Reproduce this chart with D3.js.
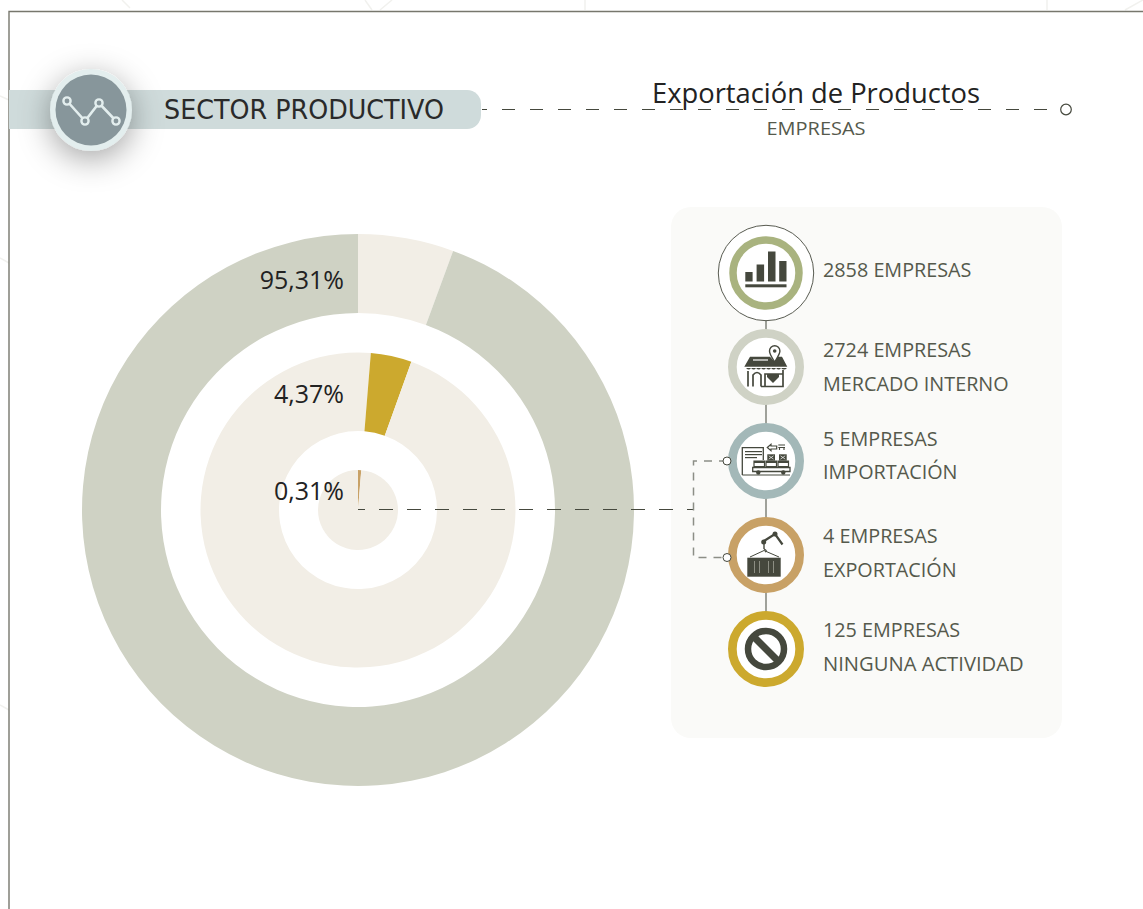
<!DOCTYPE html>
<html><head><meta charset="utf-8">
<script src="https://cdn.jsdelivr.net/npm/d3@7"></script>
<style>html,body{margin:0;padding:0;background:#fff;overflow:hidden}svg{display:block}text{font-family:"Open Sans",sans-serif}</style>
</head><body><svg id="c" width="1143" height="909"></svg>
<script>
// Shares as drawn in the picture (percent of the full turn, clockwise from 12 o'clock)
const outerShares = [5.6, 94.4];
const middleShares = [1.3, 4.2, 94.5];
const innerShares = [1.3, 98.7];
const outerColors = ["#f2eee6", "#cfd2c4"];
const middleColors = ["#f2eee6", "#cca92e", "#f2eee6"];
const innerColors = ["#c8a166", "#f2eee6"];
const ringLabels = ["95,31%", "4,37%", "0,31%"];
const stepTitles = ["2858 EMPRESAS", "2724 EMPRESAS", "5 EMPRESAS", "4 EMPRESAS", "125 EMPRESAS"];
const stepSubtitles = ["", "MERCADO INTERNO", "IMPORTACIÓN", "EXPORTACIÓN", "NINGUNA ACTIVIDAD"];
const stepColors = ["#a9b37f", "#cfd2c5", "#a3b8b8", "#c8a166", "#cca92e"];

const svg = d3.select("#c");
const dark = "#45483d", txt = "#55594c";
const defs = svg.append("defs");
const f = defs.append("filter").attr("id","sh").attr("x","-100%").attr("y","-100%").attr("width","300%").attr("height","300%");
f.append("feDropShadow").attr("dx",0).attr("dy",8).attr("stdDeviation",16).attr("flood-color","#000").attr("flood-opacity",0.36);

// faint background lines
[[122,0,130,8],[365,0,372,10],[380,10,392,0],[585,0,585,10],[1047,0,1047,10],[1125,10,1143,0],[0,258,9,263],[0,96,9,100],[0,705,9,710]]
 .forEach(l=>svg.append("line").attr("x1",l[0]).attr("y1",l[1]).attr("x2",l[2]).attr("y2",l[3]).attr("stroke","#f1f1ee").attr("stroke-width",1.5));

// frame
svg.append("path").attr("d","M9,909V11.5H1143").attr("fill","none").attr("stroke","#77776d").attr("stroke-width",1.4);

// header band
svg.append("path").attr("d","M9,90H467a14,14 0 0 1 14,14V115a14,14 0 0 1 -14,14H9Z").attr("fill","#cfdbdb");
svg.append("circle").attr("cx",91).attr("cy",110).attr("r",41).attr("fill","#e3eeee").attr("filter","url(#sh)");
svg.append("circle").attr("cx",91).attr("cy",110).attr("r",35.5).attr("fill","#87969b");
const hp=[[67,101],[85,121],[99,103],[116,121]];
svg.append("path").attr("d",d3.line()(hp)).attr("fill","none").attr("stroke","#e3eeee").attr("stroke-width",2.6);
hp.forEach(p=>svg.append("circle").attr("cx",p[0]).attr("cy",p[1]).attr("r",3.6).attr("fill","#87969b").attr("stroke","#e3eeee").attr("stroke-width",2.4));
svg.append("text").attr("x",164).attr("y",119).attr("font-size",26).attr("fill","#2a2a2a").style("font-family","'DejaVu Sans'").style("font-weight",400).attr("textLength",280).attr("lengthAdjust","spacingAndGlyphs").text("SECTOR PRODUCTIVO");

// title
svg.append("line").attr("x1",482).attr("x2",1047).attr("y1",109.5).attr("y2",109.5).attr("stroke",dark).attr("stroke-width",1).attr("stroke-dasharray","13 15").attr("stroke-dashoffset",8);
svg.append("circle").attr("cx",1066).attr("cy",109.5).attr("r",5.3).attr("fill","#fff").attr("stroke",dark).attr("stroke-width",1.2);
svg.append("text").attr("x",816).attr("y",103).attr("text-anchor","middle").attr("font-size",27.5).attr("fill","#222").attr("textLength",328).attr("lengthAdjust","spacingAndGlyphs").text("Exportación de Productos");
svg.append("text").attr("x",816).attr("y",135).attr("text-anchor","middle").attr("font-size",19).attr("fill",txt).attr("textLength",99).attr("lengthAdjust","spacingAndGlyphs").text("EMPRESAS");

// panel
svg.append("rect").attr("x",671).attr("y",207).attr("width",391).attr("height",531).attr("rx",20).attr("fill","#fafaf8");

// donuts
const chart = svg.append("g").attr("transform","translate(358,510)");
const pie = d3.pie().sort(null);
[[outerShares,outerColors,197,276],[middleShares,middleColors,79,157.5],[innerShares,innerColors,0,40]].forEach(([vals,cols,r0,r1])=>{
  const arc = d3.arc().innerRadius(r0).outerRadius(r1);
  chart.append("g").selectAll("path").data(pie(vals)).join("path").attr("d",arc).attr("fill",(d,i)=>cols[i]);
});
[289,403,500].forEach((y,i)=>svg.append("text").attr("x",344).attr("y",y).attr("text-anchor","end").attr("font-size",25).attr("fill","#222").text(ringLabels[i]));

// connector
svg.append("line").attr("x1",358).attr("x2",693).attr("y1",509.5).attr("y2",509.5).attr("stroke",dark).attr("stroke-width",1).attr("stroke-dasharray","14 14").attr("stroke-dashoffset",7);
svg.append("path").attr("d","M727,461H693.5V557.5H727").attr("fill","none").attr("stroke","#8c8e86").attr("stroke-width",1.5).attr("stroke-dasharray","8 7");

// timeline
const ys=[273,367,461,555,649];
svg.append("line").attr("x1",766).attr("x2",766).attr("y1",320).attr("y2",615).attr("stroke",dark).attr("stroke-width",1);
svg.append("circle").attr("cx",766).attr("cy",273).attr("r",47.7).attr("fill","#fff").attr("stroke",dark).attr("stroke-width",0.9);
stepColors.forEach((c,i)=>{
  const r=i==0?33:33.65, w=i==0?7.5:8.7;
  svg.append("circle").attr("cx",766).attr("cy",ys[i]).attr("r",r).attr("fill","#fff").attr("stroke",c).attr("stroke-width",w);
});
[461,557.5].forEach(y=>svg.append("circle").attr("cx",727).attr("cy",y).attr("r",4).attr("fill","#fff").attr("stroke",dark).attr("stroke-width",1));

// icons
const ic = i=>svg.append("g").attr("transform",`translate(766,${ys[i]})`).attr("fill",dark);
const R=(g,x,y,w,h,fill)=>g.append("rect").attr("x",x).attr("y",y).attr("width",w).attr("height",h).attr("fill",fill||dark);
const P=(g,d,fill,st,sw)=>g.append("path").attr("d",d).attr("fill",fill||"none").attr("stroke",st||"none").attr("stroke-width",sw||0);
// bars
let g=ic(0);
R(g,-20.7,-1,7.3,9.5);R(g,-9.4,-8.5,7.5,17);R(g,2,-21.5,7.5,30);R(g,13.2,-12,7.3,20.5);R(g,-20.7,11.3,41.2,3);
// store
g=ic(1);
P(g,"M-21.7,-0.3L-16,-10.3H4L8,-6L12,-10.3H16L21.3,-0.3Z",dark);
P(g,"M-13,-7H2","none","#fff",1.2);
P(g,"M8.7,-5C5,-11 3.5,-13 3.5,-16A5.2,5.2 0 0 1 13.9,-16C13.9,-13 12,-11 8.7,-5Z","#fff",dark,1.4);
g.append("circle").attr("cx",8.7).attr("cy",-16).attr("r",1.8);
P(g,"M-20,1Q-17,4 -15,1Q-12,4 -10,1Q-7,4 -5,1Q-2,4 0,1Q3,4 5,1Q8,4 10,1Q13,4 15,1Q18,4 21,1Z",dark);
P(g,"M-18,19.5V4M-13,19.5V8Q-9,3 -5,8V19.5M-5,19.5H17V3M-1,19.5V7H17","none",dark,1.7);
P(g,"M1,7H13V10L7,16L1,10Z",dark);
// import
g=ic(2);
P(g,"M-23.7,14V-13.3H-2.7V-1","none",dark,1.3);
R(g,-21,-10,17,1.2);R(g,-21,-7,17,1.2);R(g,-21,-4,12,1.2);
P(g,"M-23.7,14H24","none",dark,1.1);
[[1.3,-6.7],[13,-6.7]].forEach(p=>{R(g,p[0],p[1],7.7,6.3);P(g,`M${p[0]+1.5},${p[1]+1.5}l4.7,3.3m0,-3.3l-4.7,3.3`,"none","#fff",0.7)});
[-12,0,12].forEach(x=>{P(g,`M${x},0h10.5v5.6h-10.5Z`,"#fff",dark,1.2);R(g,x,0,10.5,2)});
P(g,"M-13.3,6.5H24V10.5H-13.3Z","#fff",dark,1.3);
[-7.7,17.3].forEach(x=>g.append("circle").attr("cx",x).attr("cy",11.5).attr("r",2.2));
P(g,"M1.3,-13.5L5,-16.7V-15H10.7V-12H5V-10.3Z","none",dark,1.2);
P(g,"M12.3,-16H19M12.3,-13.5H19M13.5,-13.5V-11M18,-13.5V-11","none",dark,1.1);
// export
g=ic(3);
R(g,-18.7,2.7,33.4,19,dark);
[-12,-7,2,7].forEach(x=>R(g,x,6,1,12,"#8c8e83"));
P(g,"M-16,2L-2,-4.5L13,2","none",dark,1);
P(g,"M-2,-6V-11","none",dark,1.4);
P(g,"M-2,-6Q2,-4 -1,-3","none",dark,1.2);
g.append("circle").attr("cx",-2.3).attr("cy",-13).attr("r",2.5);
g.append("circle").attr("cx",9).attr("cy",-21).attr("r",2.5);
P(g,"M-2,-14L9,-21L16.5,-10.5","none",dark,2.2);
// none
g=ic(4);
g.append("circle").attr("r",18).attr("fill","none").attr("stroke",dark).attr("stroke-width",6.5);
P(g,"M-13,-13L13,13","none",dark,7);

// labels
const tb=[276.5,356.7,445.7,542.7,636.7], sb=[0,390.7,478.7,576.7,670.7];
stepTitles.forEach((t,i)=>{
  svg.append("text").attr("x",823).attr("y",tb[i]).attr("font-size",19.8).attr("fill",txt).text(t);
  if(stepSubtitles[i]) svg.append("text").attr("x",823).attr("y",sb[i]).attr("font-size",i==4?20.2:19.8).attr("fill",txt).text(stepSubtitles[i]);
});
</script></body></html>
